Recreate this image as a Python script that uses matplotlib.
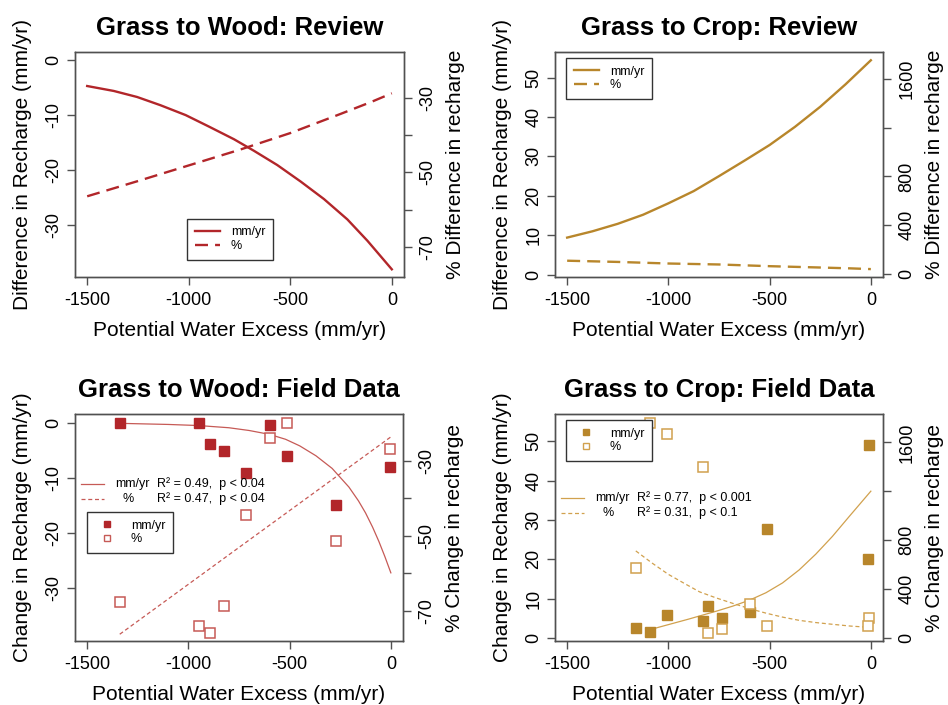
import matplotlib.pyplot as plt
from matplotlib.lines import Line2D

plt.rcParams['font.family'] = ['Liberation Sans', 'DejaVu Sans']

W, H = 948, 705

RED = '#b2262a'
RED_LT = '#c65a56'
GOLD = '#b8862b'
GOLD_LT = '#d1a14e'
FRAME = '#505050'

# modelled (review) curves
wood_rev_x = [-1500, -1369, -1254, -1139, -1015, -900, -777, -679, -564,
              -449, -334, -219, -120, 0]
wood_rev_mm = [-4.7, -5.6, -6.7, -8.2, -10.0, -12.1, -14.4, -16.5, -19.1,
               -22.1, -25.3, -29.0, -32.9, -38.1]
wood_rev_pct_x = [-1500, -1250, -1000, -750, -500, -250, -100, 0]
wood_rev_pct = [-56.4, -52.3, -48.1, -43.9, -39.4, -34.2, -31.0, -28.7]

crop_rev_x = [-1500, -1375, -1250, -1125, -1000, -875, -750, -625, -500,
              -375, -250, -125, 0]
crop_rev_mm = [9.4, 11.0, 12.9, 15.2, 18.1, 21.2, 25.0, 28.9, 32.9, 37.5,
               42.6, 48.3, 54.4]
crop_rev_pct_x = [-1500, -1250, -1000, -750, -500, -250, -100, 0]
crop_rev_pct = [107, 97, 84, 76, 62, 51, 44, 38]

# field sites, grass to wood
wood_x = [-1339, -948, -893, -825, -715, -595, -513, -270, -3]
wood_mm = [0.0, -0.1, -3.8, -5.1, -9.1, -0.4, -6.0, -14.9, -8.0]
wood_pct = [-67.6, -74.1, -75.9, -68.8, -44.3, -24.0, -19.9, -51.4, -26.7]
wood_fit_x = [-1339, -1100, -950, -800, -700, -600, -520, -450, -370, -290,
              -207, -160, -125, -90, -59, -30, 0]
wood_fit_mm = [-0.1, -0.3, -0.5, -0.9, -1.4, -2.1, -3.0, -4.2, -6.0, -8.3,
               -11.7, -14.2, -16.4, -19.0, -21.6, -24.3, -27.3]
wood_fit_pct_x = [-1339, 0]
wood_fit_pct = [-76.2, -23.6]

# field sites, grass to crop
crop_x = [-1161, -1093, -1007, -830, -804, -736, -599, -515, -10, -15]
crop_mm = [2.6, 1.4, 5.8, 4.3, 8.2, 5.1, 6.6, 27.8, 49.0, 20.0]
crop_pct = [573, 1758, 1666, 1401, 41, 71, 281, 98, 167, 98]
crop_fit_x = [-1100, -1000, -900, -846, -764, -682, -600, -518, -436, -354,
              -272, -190, -108, 0]
crop_fit_mm = [2.0, 3.4, 4.8, 5.6, 6.8, 8.1, 9.6, 11.5, 14.0, 17.3, 21.3,
               25.8, 30.8, 37.3]
crop_fit_pct_x = [-1161, -1080, -1000, -920, -846, -765, -684, -600, -516,
                  -435, -354, -273, -192, -100, 0]
crop_fit_pct = [712, 612, 520, 445, 377, 328, 284, 240, 202, 170, 144, 126,
                112, 97, 86]

x_ticks = [-1500, -1000, -500, 0]
xlab = 'Potential Water Excess (mm/yr)'


def make_axes(fig, l, t, r, b):
    ax = fig.add_axes([l / W, 1 - b / H, (r - l) / W, (b - t) / H])
    ax2 = ax.twinx()
    return ax, ax2


def style(ax, ax2, title, ylab_l, ylab_r, ylim_l, ylim_r,
          yt_l, ytl_l, yt_r, ytl_r, h_px, w_px):
    ax.set_xlim(-1560, 60)
    ax.set_ylim(*ylim_l)
    ax2.set_ylim(*ylim_r)
    ax.set_xticks(x_ticks, [str(v) for v in x_ticks], fontsize=13)
    ax.set_yticks(yt_l, ytl_l, rotation=90, va='center', fontsize=13)
    ax2.set_yticks(yt_r, ytl_r, rotation=90, va='center', fontsize=13)
    for a in (ax, ax2):
        for s in a.spines.values():
            s.set_color(FRAME)
            s.set_linewidth(1.0)
        a.tick_params(length=6, width=1.0, color=FRAME)
    ax.tick_params(axis='x', pad=5)
    ax.tick_params(axis='y', pad=3)
    ax2.tick_params(axis='y', pad=5)
    ax.set_title(title, fontsize=18.5, fontweight='bold', pad=12)
    ax.set_xlabel(xlab, fontsize=15, va='center')
    ax.xaxis.set_label_coords(0.5, -53 / h_px)
    ax.set_ylabel(ylab_l, fontsize=15, va='center')
    ax.yaxis.set_label_coords(-52 / w_px, 0.5)
    ax2.set_ylabel(ylab_r, fontsize=15, va='center', rotation=90)
    ax2.yaxis.set_label_coords(1 + 52 / w_px, 0.5)


def box_legend(ax2, handles, labels, x, y):
    leg = ax2.legend(handles, labels, loc='upper left',
                     bbox_to_anchor=(x / W, 1 - y / H),
                     bbox_transform=ax2.figure.transFigure,
                     fontsize=9, fancybox=False, framealpha=1,
                     edgecolor='#333333', borderpad=0.6, labelspacing=0.15,
                     handletextpad=0.9, borderaxespad=0)
    leg.get_frame().set_linewidth(1.0)
    return leg


def fit_note(fig, col, x0, y0, r2a, r2b, dash):
    # line key, series name and fit statistics for the two regressions
    for k, (name, stats) in enumerate([('mm/yr', r2a), ('%', r2b)]):
        yy = y0 + k * 15
        ls = '-' if k == 0 else (0, dash)
        fig.add_artist(Line2D([x0 / W, (x0 + 23) / W], [1 - yy / H] * 2,
                              color=col, lw=0.9, ls=ls,
                              transform=fig.transFigure))
        if k == 0:
            fig.text((x0 + 34) / W, 1 - yy / H, name, fontsize=9,
                     va='center', ha='left')
        else:
            fig.text((x0 + 47) / W, 1 - yy / H, name, fontsize=9,
                     va='center', ha='center')
        fig.text((x0 + 76) / W, 1 - yy / H, stats, fontsize=9,
                 va='center', ha='left')


fig = plt.figure(figsize=(W / 100, H / 100), dpi=100)

# Grass to Wood: Review
ax, ax2 = make_axes(fig, 75, 52, 404, 277)
ax.plot(wood_rev_x, wood_rev_mm, color=RED, lw=1.7)
ax2.plot(wood_rev_pct_x, wood_rev_pct, color=RED, lw=1.7, ls=(0, (5.5, 3)))
style(ax, ax2, 'Grass to Wood: Review', 'Difference in Recharge (mm/yr)',
      '% Difference in recharge', (-39.5, 1.5), (-78.1, -17.6),
      [0, -10, -20, -30], ['0', '-10', '-20', '-30'],
      [-30, -40, -50, -60, -70], ['-30', '', '-50', '', '-70'], 225, 329)
box_legend(ax2, [Line2D([], [], color=RED, lw=1.7),
                 Line2D([], [], color=RED, lw=1.7, ls=(0, (5.5, 3)))],
           ['mm/yr', '%'], 187, 219)

# Grass to Crop: Review
ax, ax2 = make_axes(fig, 555, 52, 883, 277)
ax.plot(crop_rev_x, crop_rev_mm, color=GOLD, lw=1.7)
ax2.plot(crop_rev_pct_x, crop_rev_pct, color=GOLD, lw=1.7, ls=(0, (5.5, 3)))
style(ax, ax2, 'Grass to Crop: Review', 'Difference in Recharge (mm/yr)',
      '% Difference in recharge', (-0.6, 56.5), (-27, 1824),
      [0, 10, 20, 30, 40, 50], ['0', '10', '20', '30', '40', '50'],
      [0, 400, 800, 1200, 1600], ['0', '400', '800', '', '1600'], 225, 328)
box_legend(ax2, [Line2D([], [], color=GOLD, lw=1.7),
                 Line2D([], [], color=GOLD, lw=1.7, ls=(0, (5.5, 3)))],
           ['mm/yr', '%'], 566, 58)

# Grass to Wood: Field Data
ax, ax2 = make_axes(fig, 75, 414, 403, 641)
ax.plot(wood_fit_x, wood_fit_mm, color=RED_LT, lw=0.9)
ax2.plot(wood_fit_pct_x, wood_fit_pct, color=RED_LT, lw=0.9,
         ls=(0, (3.2, 2.2)))
ax.plot(wood_x, wood_mm, 's', color=RED, ms=6.5, mec=RED)
ax2.plot(wood_x, wood_pct, 's', mfc='white', mec=RED_LT, ms=6.5, mew=1.1)
style(ax, ax2, 'Grass to Wood: Field Data', 'Change in Recharge (mm/yr)',
      '% Change in recharge', (-39.7, 1.6), (-78.0, -17.5),
      [0, -10, -20, -30], ['0', '-10', '-20', '-30'],
      [-30, -40, -50, -60, -70], ['-30', '', '-50', '', '-70'], 227, 328)
box_legend(ax2, [Line2D([], [], ls='', marker='s', ms=4, color=RED),
                 Line2D([], [], ls='', marker='s', ms=4, mfc='white',
                        mec=RED_LT, mew=1.0)],
           ['mm/yr', '%'], 87, 512)
fit_note(fig, RED_LT, 81, 484, 'R² = 0.49,  p < 0.04',
         'R² = 0.47,  p < 0.04', (3.2, 2.2))

# Grass to Crop: Field Data
ax, ax2 = make_axes(fig, 555, 414, 883, 641)
ax.plot(crop_fit_x, crop_fit_mm, color=GOLD_LT, lw=0.9)
ax2.plot(crop_fit_pct_x, crop_fit_pct, color=GOLD_LT, lw=0.9,
         ls=(0, (3.2, 2.2)))
ax.plot(crop_x, crop_mm, 's', color=GOLD, ms=6.5, mec=GOLD)
ax2.plot(crop_x, crop_pct, 's', mfc='white', mec=GOLD_LT, ms=6.5, mew=1.1)
style(ax, ax2, 'Grass to Crop: Field Data', 'Change in Recharge (mm/yr)',
      '% Change in recharge', (-0.76, 56.9), (-25, 1832),
      [0, 10, 20, 30, 40, 50], ['0', '10', '20', '30', '40', '50'],
      [0, 400, 800, 1200, 1600], ['0', '400', '800', '', '1600'], 227, 328)
box_legend(ax2, [Line2D([], [], ls='', marker='s', ms=4, color=GOLD),
                 Line2D([], [], ls='', marker='s', ms=4, mfc='white',
                        mec=GOLD_LT, mew=1.0)],
           ['mm/yr', '%'], 566, 420)
fit_note(fig, GOLD_LT, 561, 498, 'R² = 0.77,  p < 0.001',
         'R² = 0.31,  p < 0.1', (3.2, 2.2))

fig.savefig('out.png', dpi=100)
